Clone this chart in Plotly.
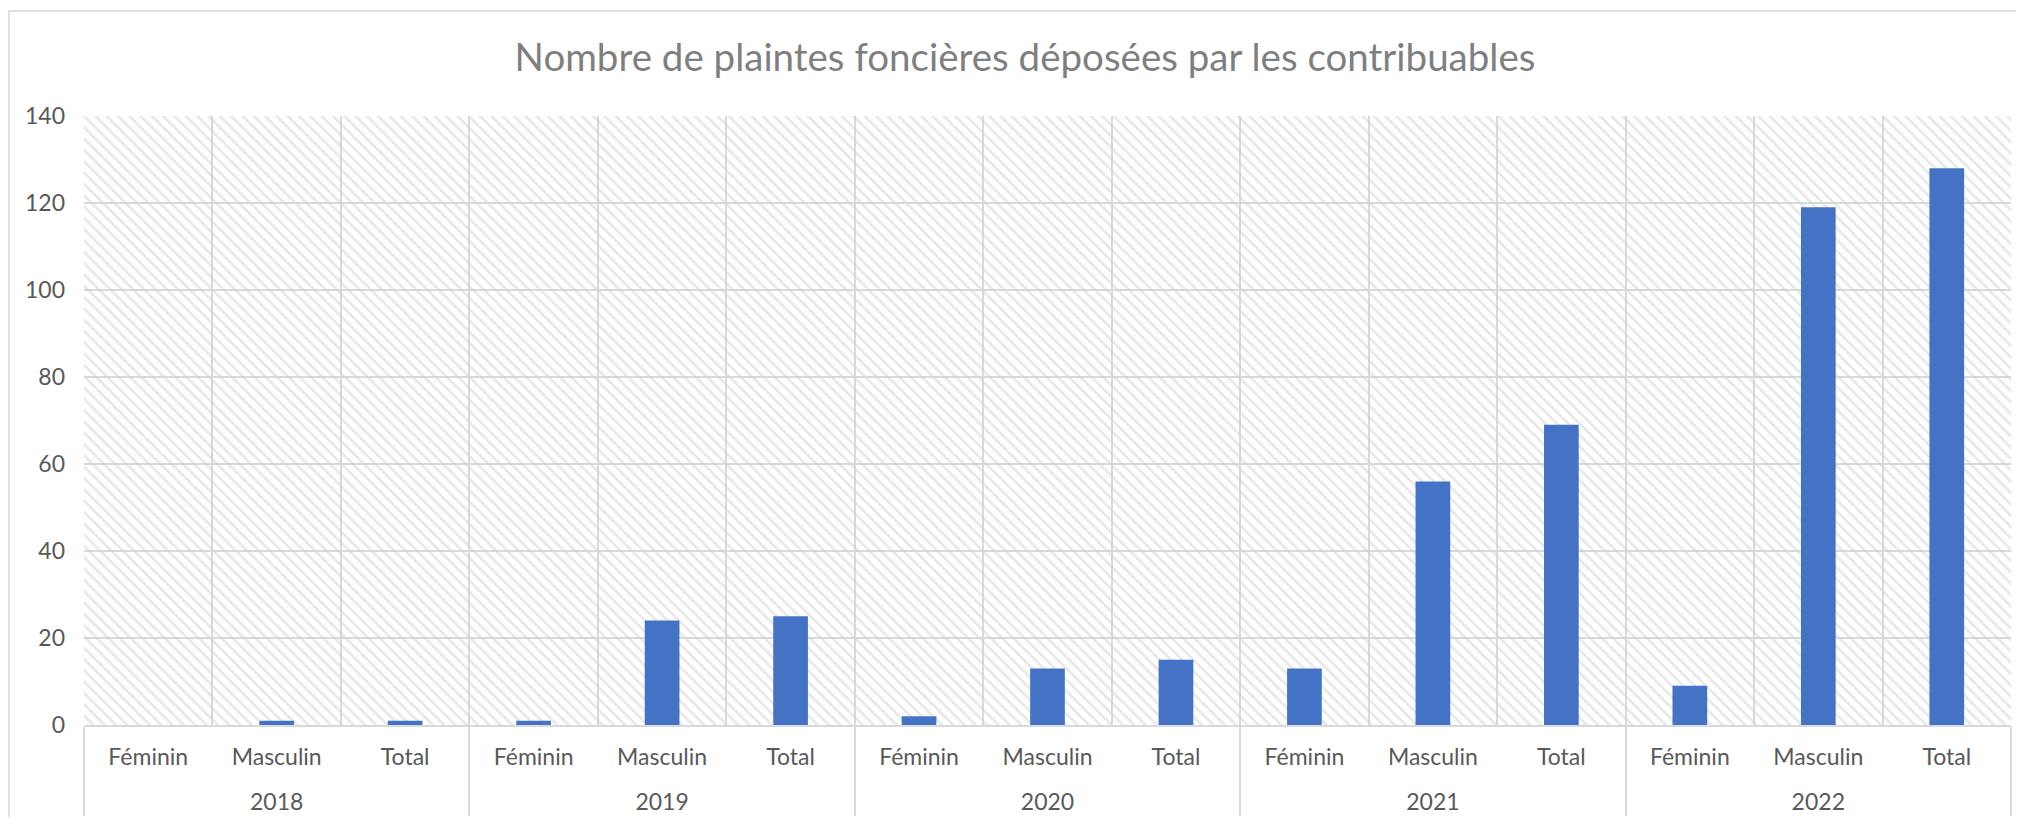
import plotly.graph_objects as go

# data
years = ["2018", "2019", "2020", "2021", "2022"]
sexes = ["Féminin", "Masculin", "Total"]
feminin = [0, 1, 2, 13, 9]
masculin = [1, 24, 13, 56, 119]
total = [1, 25, 15, 69, 128]

y_max = 140
y_step = 20

title = "Nombre de plaintes foncières déposées par les contribuables"
bar_color = "#4472C4"
grid_color = "#d9d9d9"
text_color = "#595959"
title_color = "#7f7f7f"
font_family = "Lato, 'Open Sans', sans-serif"


def big(txt):
    # label text at full size, on a smaller base font (controls row spacing)
    return "<span style='font-size:23px'>" + txt + "</span>"


# build multicategory x (year, sex) in the same order as the chart
# (the trailing blank lines push the year row down, like in Excel)
x_year = []
x_sex = []
values = []
for i, yr in enumerate(years):
    for sex, serie in zip(sexes, [feminin, masculin, total]):
        x_year.append(big(yr))
        x_sex.append(big(sex) + "<br>\u00a0<br>\u00a0")
        values.append(serie[i])

# page body has an 8px margin, so the figure is a bit smaller than the window
OFF = 8
W, H = 2024 - 2 * OFF, 825 - 2 * OFF
L, R, T, B = 84 - OFF, W - (2011 - OFF), 116 - OFF, H - (725 - OFF)
pw = W - L - R
ph = H - T - B

fig = go.Figure()

# hatched plot background (Excel style pattern fill)
fig.add_trace(go.Bar(
    x=[x_year, x_sex], y=[y_max] * len(values), width=1,
    marker=dict(color="rgba(0,0,0,0)", line=dict(width=0),
                pattern=dict(shape="\\", fgcolor="#d2d2d2", size=8, solidity=0.35)),
    hoverinfo="skip", showlegend=False,
))

fig.add_trace(go.Bar(
    x=[x_year, x_sex], y=values, width=0.27,
    marker=dict(color=bar_color, line=dict(width=0)),
    showlegend=False,
))

fig.update_layout(
    width=W, height=H,
    margin=dict(l=L, r=R, t=T, b=B, autoexpand=False),
    barmode="overlay",
    paper_bgcolor="white",
    plot_bgcolor="white",
    font=dict(family=font_family, color=text_color, size=23),
    title=dict(text=title, x=(1025 - OFF) / W, xanchor="center",
               y=1 - (58 - OFF) / H, yanchor="middle",
               font=dict(size=38.5, color=title_color, family=font_family)),
)

fig.update_xaxes(
    type="multicategory",
    tickson="boundaries",
    showgrid=True, gridcolor=grid_color, gridwidth=1.5,
    showline=True, linecolor=grid_color, linewidth=2,
    showdividers=True, dividercolor=grid_color, dividerwidth=2,
    ticks="", ticklabelstandoff=21,
    tickfont=dict(size=14.5, color=text_color),
)

fig.update_yaxes(
    range=[0, y_max], dtick=y_step,
    showgrid=True, gridcolor=grid_color, gridwidth=1.5,
    zeroline=False, showline=False,
    ticks="", ticklabelstandoff=18,
    tickfont=dict(size=23, color=text_color),
)

# chart outer border
fig.add_shape(
    type="rect", xref="paper", yref="paper", layer="below",
    x0=(1 - L) / pw, x1=(W + 10 - L) / pw,
    y0=-(H + 10 - T - ph) / ph, y1=(H - B - 3) / ph,
    line=dict(color=grid_color, width=1.5), fillcolor="rgba(0,0,0,0)",
)

fig.write_html("out.html")
